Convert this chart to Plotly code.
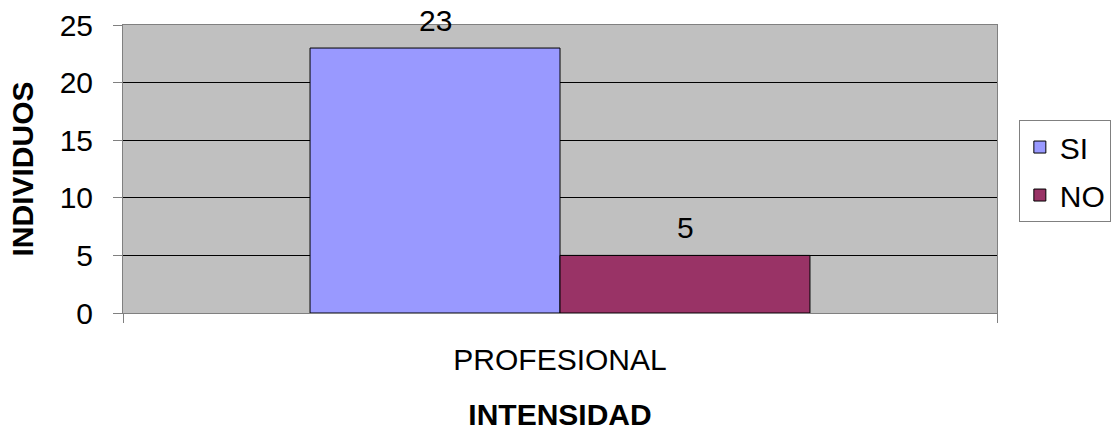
import plotly.graph_objects as go

categories = ["PROFESIONAL"]
series_names = ["SI", "NO"]
si_values = [23]
no_values = [5]
colors = {"SI": "#9999FF", "NO": "#993366"}

FONT = "Liberation Sans, Arial, sans-serif"
FS = 30

fig = go.Figure()
for name, vals in zip(series_names, [si_values, no_values]):
    fig.add_trace(go.Bar(
        x=categories, y=vals, name=name, legendgroup=name,
        marker=dict(color=colors[name], line=dict(color="black", width=1)),
    ))

# data labels
n = len(series_names)
group_px = 500
for i, (name, vals) in enumerate(zip(series_names, [si_values, no_values])):
    shift = (i - (n - 1) / 2) * group_px / n
    for c, v in zip(categories, vals):
        fig.add_annotation(x=c, y=v, text=str(v), showarrow=False,
                           xshift=shift, yshift=28, font=dict(size=FS, color="black", family=FONT),
                           xref="x", yref="y")

fig.update_layout(
    width=1130, height=431,
    margin=dict(l=123, r=133, t=25, b=118, autoexpand=False),
    paper_bgcolor="white", plot_bgcolor="#C0C0C0",
    font=dict(family=FONT, size=FS, color="black"),
    barmode="group", bargap=0.428, bargroupgap=0,
    showlegend=True,
    legend=dict(x=1.025, y=0.67, xanchor="left", yanchor="top",
                bordercolor="#808080", borderwidth=1, bgcolor="white",
                font=dict(size=FS), traceorder="grouped", tracegroupgap=6,
                itemwidth=30),
    xaxis=dict(title=dict(text="<b>INTENSIDAD</b>", standoff=35, font=dict(size=FS)),
               showline=True, linecolor="#808080", linewidth=1, mirror=True,
               ticks="outside", ticklen=9, tickcolor="#808080", tickson="boundaries",
               ticklabelstandoff=20, showgrid=False, automargin=False),
    yaxis=dict(title=dict(text="<b>INDIVIDUOS</b>", standoff=17, font=dict(size=FS)),
               range=[0, 25], dtick=5, showline=True, linecolor="#808080", linewidth=1,
               mirror=True, ticks="outside", ticklen=9, tickcolor="#808080",
               ticklabelstandoff=14, automargin=False,
               showgrid=True, gridcolor="black", gridwidth=1, zeroline=False),
)

fig.write_html(
    "out.html",
    config={"displayModeBar": False},
    post_script="document.body.style.margin='0';document.body.style.overflow='hidden';",
)
